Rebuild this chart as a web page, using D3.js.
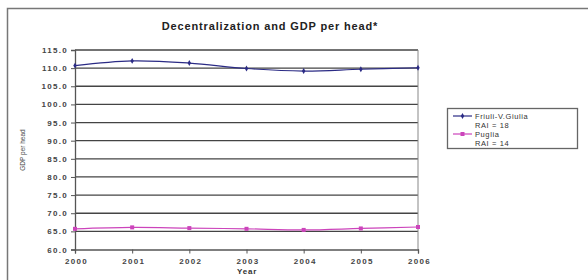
<!DOCTYPE html>
<html>
<head>
<meta charset="utf-8">
<script src="https://cdn.jsdelivr.net/npm/d3@7"></script>
<style>
  body { margin: 0; background: #fff; }
  svg { display: block; font-family: "Liberation Sans", Arial, sans-serif; }
</style>
</head>
<body>
<svg id="chart"></svg>
<script>
// Data
const years = [2000, 2001, 2002, 2003, 2004, 2005, 2006];
const friuli = [110.7, 112.0, 111.4, 109.9, 109.2, 109.7, 110.1];
const puglia = [65.7, 66.1, 65.9, 65.7, 65.4, 65.8, 66.2];
const yTicks = [60, 65, 70, 75, 80, 85, 90, 95, 100, 105, 110, 115];
const seriesNames = ["Friuli-V.Giulia", "Puglia"];
const seriesRAI = ["RAI = 18", "RAI = 14"];

const W = 588, H = 280;
const plot = { left: 75, right: 418, top: 50, bottom: 249.5 };

const svg = d3.select("#chart").attr("width", W).attr("height", H);

// outer chart frame (runs off the right and bottom)
svg.append("rect")
   .attr("x", 7.5).attr("y", 8.5)
   .attr("width", 620).attr("height", 300)
   .attr("fill", "none").attr("stroke", "#777").attr("stroke-width", 1.5);

// title
svg.append("text")
   .attr("x", 270).attr("y", 30)
   .attr("text-anchor", "middle")
   .attr("font-size", 11).attr("font-weight", "bold")
   .attr("letter-spacing", 0.85)
   .attr("fill", "#222")
   .text("Decentralization and GDP per head*");

// Scales
const x = d3.scalePoint().domain(years).range([plot.left, plot.right]);
const y = d3.scaleLinear().domain([60, 115]).range([plot.bottom, plot.top]);

// gridlines
svg.append("g")
   .selectAll("line")
   .data(yTicks.filter(d => d > 60))
   .enter().append("line")
   .attr("x1", plot.left).attr("x2", plot.right)
   .attr("y1", d => y(d)).attr("y2", d => y(d))
   .attr("stroke", "#444").attr("stroke-width", 1.3);

// plot right border
svg.append("line")
   .attr("x1", plot.right).attr("x2", plot.right)
   .attr("y1", plot.top).attr("y2", plot.bottom)
   .attr("stroke", "#888").attr("stroke-width", 1);

// axes
const yAxis = svg.append("g")
   .attr("transform", `translate(${plot.left},0)`)
   .call(d3.axisLeft(y).tickValues(yTicks).tickSize(4).tickPadding(3).tickFormat(d3.format(".1f")));
const xAxis = svg.append("g")
   .attr("transform", `translate(0,${plot.bottom})`)
   .call(d3.axisBottom(x).tickSize(4).tickPadding(5).tickFormat(d3.format("d")));

[yAxis, xAxis].forEach(a => {
  a.select(".domain").attr("stroke", "#555").attr("stroke-width", 1.3);
  a.selectAll(".tick line").attr("stroke", "#555");
  a.selectAll("text")
   .attr("font-family", "'Liberation Sans', Arial, sans-serif")
   .attr("font-size", 8).attr("font-weight", "bold")
   .attr("letter-spacing", 1.3)
   .attr("fill", "#444");
});
xAxis.selectAll("text").attr("dx", 1);

// axis titles
svg.append("text")
   .attr("x", 247).attr("y", 274)
   .attr("text-anchor", "middle")
   .attr("font-size", 8).attr("font-weight", "bold")
   .attr("letter-spacing", 0.8).attr("fill", "#333")
   .text("Year");

svg.append("text")
   .attr("transform", "translate(25,150) rotate(-90)")
   .attr("text-anchor", "middle")
   .attr("font-size", 6.5).attr("fill", "#444")
   .text("GDP per head");

// lines
const colors = ["#2b2b85", "#cc44bb"];
const line = d3.line()
   .x((d, i) => x(years[i]))
   .y(d => y(d))
   .curve(d3.curveCatmullRom.alpha(0.5));

[friuli, puglia].forEach((vals, s) => {
  svg.append("path")
     .attr("d", line(vals))
     .attr("fill", "none")
     .attr("stroke", colors[s])
     .attr("stroke-width", 1.2);
});

// markers
svg.append("g").selectAll("path")
   .data(friuli).enter().append("path")
   .attr("transform", (d, i) => `translate(${x(years[i])},${y(d)})`)
   .attr("d", d3.symbol().type(d3.symbolDiamond).size(10))
   .attr("fill", colors[0]);
svg.append("g").selectAll("rect")
   .data(puglia).enter().append("rect")
   .attr("x", (d, i) => x(years[i]) - 2).attr("y", d => y(d) - 2)
   .attr("width", 4).attr("height", 4)
   .attr("fill", colors[1]);

// legend
const lg = svg.append("g").attr("transform", "translate(447,108)");
lg.append("rect")
  .attr("x", 0.5).attr("y", 0.5).attr("width", 130).attr("height", 40)
  .attr("fill", "#fff").attr("stroke", "#666").attr("stroke-width", 1.3);

seriesNames.forEach((name, s) => {
  const yy = 8 + s * 18;
  lg.append("line")
    .attr("x1", 6).attr("x2", 25).attr("y1", yy).attr("y2", yy)
    .attr("stroke", colors[s]).attr("stroke-width", 1.2);
  if (s === 0) {
    lg.append("path")
      .attr("transform", `translate(15.5,${yy})`)
      .attr("d", d3.symbol().type(d3.symbolDiamond).size(10))
      .attr("fill", colors[s]);
  } else {
    lg.append("rect")
      .attr("x", 13.5).attr("y", yy - 2).attr("width", 4).attr("height", 4)
      .attr("fill", colors[s]);
  }
  lg.append("text")
    .attr("x", 28).attr("y", yy + 3)
    .attr("font-size", 7.5).attr("letter-spacing", 0.6).attr("fill", "#333")
    .text(name);
  lg.append("text")
    .attr("x", 28).attr("y", yy + 12)
    .attr("font-size", 7.5).attr("letter-spacing", 0.6).attr("fill", "#333")
    .text(seriesRAI[s]);
});
</script>
</body>
</html>
